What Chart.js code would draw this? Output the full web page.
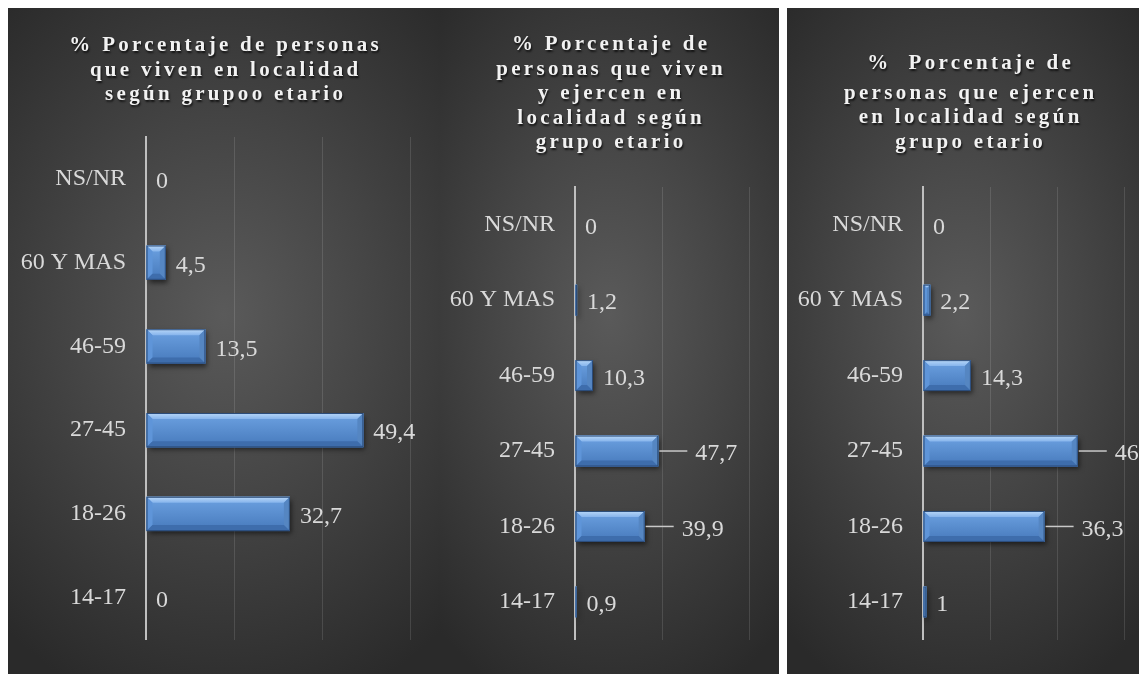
<!DOCTYPE html>
<html>
<head>
<meta charset="utf-8">
<script src="https://cdn.jsdelivr.net/npm/chart.js@4.4.1/dist/chart.umd.min.js"></script>
<style>
  body { margin: 0; width: 1139px; height: 674px; background: #fff; position: relative; overflow: hidden; }
  .panel {
    position: absolute; top: 8px; height: 666px; overflow: hidden;
    background: radial-gradient(ellipse 78% 62% at 50% 46%, #5a5a5a 0%, #454545 45%, #2a2a2a 100%);
  }
  .panel canvas { position: absolute; left: 0; top: 0; }
  .title {
    position: absolute; left: 0; text-align: center; white-space: pre;
    font-family: "Liberation Serif", serif; font-weight: bold; font-size: 21px;
    line-height: 24.5px; letter-spacing: 3.3px; padding-left: 3.3px; box-sizing: border-box;
    color: #f2f2f2; text-shadow: 1px 2px 2px rgba(0, 0, 0, 0.7);
  }
</style>
</head>
<body>
<div class="panel" id="p1" style="left:8px;width:432px">
  <canvas id="chartViven" width="432" height="666"></canvas>
  <div class="title" id="t1" style="top:24px;width:432px"></div>
</div>
<div class="panel" id="p2" style="left:440px;width:339px">
  <canvas id="chartVivenEjercen" width="400" height="666"></canvas>
  <div class="title" id="t2" style="top:23px;width:339px"></div>
</div>
<div class="panel" id="p3" style="left:787px;width:352px">
  <canvas id="chartEjercen" width="420" height="666"></canvas>
  <div class="title" id="t3" style="top:42px;width:364px"></div>
</div>
<script>
const categories = ["NS/NR", "60 Y MAS", "46-59", "27-45", "18-26", "14-17"];
const viven = [0, 4.5, 13.5, 49.4, 32.7, 0];
const vivenEjercen = [0, 1.2, 10.3, 47.7, 39.9, 0.9];
const ejercen = [0, 2.2, 14.3, 46.2, 36.3, 1];

const titleViven = ["% Porcentaje de personas", "que viven en localidad", "según grupoo etario"];
const titleVivenEjercen = ["% Porcentaje de", "personas que viven", "y ejercen en", "localidad según", "grupo etario"];
const titleEjercen = ["%  Porcentaje de", "personas que ejercen", "en localidad según", "grupo etario"];

const fmt = (v) => String(v).replace(".", ",");

function fillTitle(id, lines, firstGap) {
  const el = document.getElementById(id);
  lines.forEach((line, i) => {
    const d = document.createElement("div");
    d.textContent = line;
    if (i === 0 && firstGap) d.style.marginBottom = firstGap + "px";
    el.appendChild(d);
  });
}
fillTitle("t1", titleViven);
fillTitle("t2", titleVivenEjercen);
fillTitle("t3", titleEjercen, 5);

// drop shadow under the bars, then a bevel painted over each bar
const bevelBars = {
  id: "bevelBars",
  beforeDatasetsDraw(chart) {
    const ctx = chart.ctx;
    ctx.save();
    ctx.shadowColor = "rgba(0,0,0,0.55)";
    ctx.shadowBlur = 5;
    ctx.shadowOffsetX = 2;
    ctx.shadowOffsetY = 3;
  },
  afterDatasetsDraw(chart) {
    const ctx = chart.ctx;
    ctx.restore();
    ctx.save();
    chart.getDatasetMeta(0).data.forEach((bar) => {
      const left = Math.min(bar.base, bar.x);
      const right = Math.max(bar.base, bar.x);
      const top = bar.y - bar.height / 2;
      const bottom = bar.y + bar.height / 2;
      const w = right - left;
      if (w < 0.5) return;
      const b = Math.min(6, w / 2, bar.height / 4);

      const face = ctx.createLinearGradient(0, top, 0, bottom);
      face.addColorStop(0, "#6da2e2");
      face.addColorStop(1, "#4679bb");
      ctx.fillStyle = face;
      ctx.fillRect(left, top, w, bottom - top);

      // top face
      const g = ctx.createLinearGradient(0, top, 0, top + b);
      g.addColorStop(0, "#b9d8f8");
      g.addColorStop(1, "#86b4ec");
      ctx.fillStyle = g;
      ctx.beginPath();
      ctx.moveTo(left, top); ctx.lineTo(right, top);
      ctx.lineTo(right - b, top + b); ctx.lineTo(left + b, top + b);
      ctx.closePath(); ctx.fill();
      // left face
      ctx.fillStyle = "#5f95d9";
      ctx.beginPath();
      ctx.moveTo(left, top); ctx.lineTo(left + b, top + b);
      ctx.lineTo(left + b, bottom - b); ctx.lineTo(left, bottom);
      ctx.closePath(); ctx.fill();
      // right face
      ctx.fillStyle = "#5586c2";
      ctx.beginPath();
      ctx.moveTo(right, top); ctx.lineTo(right, bottom);
      ctx.lineTo(right - b, bottom - b); ctx.lineTo(right - b, top + b);
      ctx.closePath(); ctx.fill();
      // bottom face
      ctx.fillStyle = "#3e6dac";
      ctx.beginPath();
      ctx.moveTo(left, bottom); ctx.lineTo(right, bottom);
      ctx.lineTo(right - b, bottom - b); ctx.lineTo(left + b, bottom - b);
      ctx.closePath(); ctx.fill();

      ctx.strokeStyle = "#2b4c7a";
      ctx.lineWidth = 1;
      ctx.strokeRect(left + 0.5, top + 0.5, w - 1, bottom - top - 1);
    });
    ctx.restore();
  },
};

const valueLabels = {
  id: "valueLabels",
  afterDatasetsDraw(chart, args, opts) {
    const ctx = chart.ctx;
    const values = chart.data.datasets[0].data;
    ctx.save();
    ctx.font = "24px 'Liberation Serif', serif";
    ctx.fillStyle = "#d9d9d9";
    ctx.textBaseline = "middle";
    chart.getDatasetMeta(0).data.forEach((bar, i) => {
      const v = values[i];
      let x = bar.x + 10;
      if (opts.leaderFrom != null && v >= opts.leaderFrom) {
        ctx.strokeStyle = "#c8c8c8";
        ctx.lineWidth = 1.5;
        ctx.beginPath();
        ctx.moveTo(bar.x + 1, bar.y);
        ctx.lineTo(bar.x + 29, bar.y);
        ctx.stroke();
        x = bar.x + 37;
      }
      ctx.fillText(fmt(v), x, bar.y + 3);
    });
    ctx.restore();
  },
};

function makeChart(canvasId, values, cfg) {
  return new Chart(document.getElementById(canvasId), {
    type: "bar",
    data: {
      labels: categories,
      datasets: [
        {
          data: values,
          backgroundColor: "#4f86c9",
          borderWidth: 0,
          barPercentage: 0.41,
          categoryPercentage: 1,
        },
      ],
    },
    options: {
      indexAxis: "y",
      responsive: false,
      animation: false,
      events: [],
      layout: { padding: { top: cfg.top, bottom: 24, right: cfg.right, left: 0 } },
      scales: {
        x: {
          min: 0,
          max: cfg.max,
          ticks: { display: false, stepSize: cfg.step },
          grid: { color: "rgba(255,255,255,0.12)", lineWidth: 1, drawTicks: false },
          border: { display: false },
          afterFit: (s) => { s.height = 0; },
        },
        y: {
          ticks: {
            color: "#d9d9d9",
            font: { family: "'Liberation Serif', serif", size: 24 },
            padding: 20,
          },
          grid: { display: false, drawTicks: false },
          border: { color: "#bfbfbf", width: 2 },
          afterFit: (s) => { s.width = cfg.axisX; },
        },
      },
      plugins: {
        legend: { display: false },
        tooltip: { enabled: false },
        valueLabels: { leaderFrom: cfg.leaderFrom },
      },
    },
    plugins: [bevelBars, valueLabels],
  });
}

makeChart("chartViven", viven, { top: 129, right: 30, max: 60, step: 20, axisX: 138, leaderFrom: null });
makeChart("chartVivenEjercen", vivenEjercen, { top: 179, right: 3, max: 150, step: 50, axisX: 135, leaderFrom: 30 });
makeChart("chartEjercen", ejercen, { top: 179, right: 16, max: 80, step: 20, axisX: 136, leaderFrom: 30 });
</script>
</body>
</html>
